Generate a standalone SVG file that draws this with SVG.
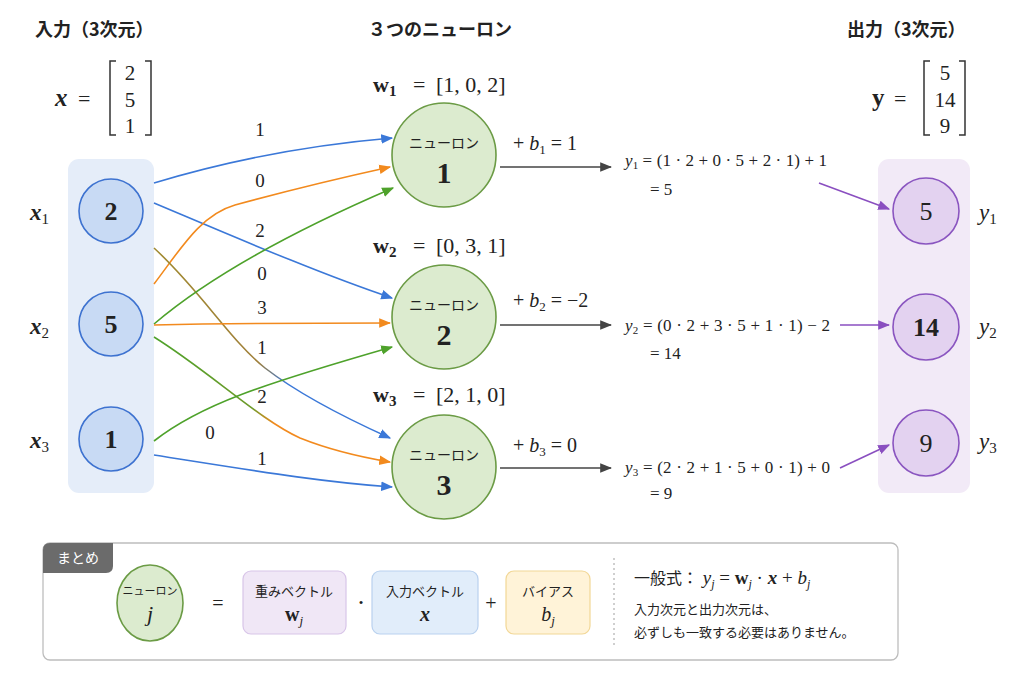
<svg xmlns="http://www.w3.org/2000/svg" width="1024" height="683" viewBox="0 0 1024 683">
<style>
.hd{font-family:"Noto Sans CJK JP","Noto Sans",sans-serif;font-weight:bold;font-size:18px;fill:#222}
.jp{font-family:"Noto Sans CJK JP","Noto Sans",sans-serif;fill:#222}
.m{font-family:"Liberation Serif","DejaVu Serif",serif;fill:#222}
.it{font-style:italic}
.b{font-weight:bold}
.wl{font-family:"Liberation Serif",serif;font-size:19px;fill:#222;text-anchor:middle}
.c{stroke-width:1.6;fill:none}
</style>
<defs>
<marker id="ab" viewBox="0 0 10 10" refX="9" refY="5" markerWidth="12" markerHeight="12" markerUnits="userSpaceOnUse" orient="auto"><path d="M0,1 L10,5 L0,9 z" fill="#3b78d8"/></marker>
<marker id="ao" viewBox="0 0 10 10" refX="9" refY="5" markerWidth="12" markerHeight="12" markerUnits="userSpaceOnUse" orient="auto"><path d="M0,1 L10,5 L0,9 z" fill="#f28a1e"/></marker>
<marker id="ag" viewBox="0 0 10 10" refX="9" refY="5" markerWidth="12" markerHeight="12" markerUnits="userSpaceOnUse" orient="auto"><path d="M0,1 L10,5 L0,9 z" fill="#4ea22b"/></marker>
<marker id="ad" viewBox="0 0 10 10" refX="9" refY="5" markerWidth="12" markerHeight="12" markerUnits="userSpaceOnUse" orient="auto"><path d="M0,1 L10,5 L0,9 z" fill="#444"/></marker>
<marker id="ap" viewBox="0 0 10 10" refX="9" refY="5" markerWidth="12" markerHeight="12" markerUnits="userSpaceOnUse" orient="auto"><path d="M0,1 L10,5 L0,9 z" fill="#8a4fc0"/></marker>
<linearGradient id="g4" gradientUnits="userSpaceOnUse" x1="154" y1="248" x2="392" y2="438"><stop offset="0" stop-color="#a08a30"/><stop offset="0.5" stop-color="#a0803a"/><stop offset="0.62" stop-color="#3b78d8"/></linearGradient>
<linearGradient id="g7" gradientUnits="userSpaceOnUse" x1="154" y1="337" x2="390" y2="462"><stop offset="0" stop-color="#4ea22b"/><stop offset="0.45" stop-color="#6e9a2a"/><stop offset="0.55" stop-color="#f28a1e"/></linearGradient>
</defs>
<rect width="1024" height="683" fill="#ffffff"/>

<!-- headers -->
<text class="hd" x="35" y="36">入力（3次元）</text>
<text class="hd" x="368" y="36" font-size="19">３つのニューロン</text>
<text class="hd" x="847" y="36">出力（3次元）</text>

<!-- input vector -->
<g id="x-vector">
<text class="m it b" x="55" y="106" font-size="25">x</text>
<text class="m" x="78" y="106" font-size="22">=</text>
<path d="M116,61 L110,61 L110,135 L116,135 M145,61 L151,61 L151,135 L145,135" stroke="#333" stroke-width="1.5" fill="none"/>
<text class="m" x="130" y="80" font-size="21" text-anchor="middle">2</text>
<text class="m" x="130" y="107" font-size="21" text-anchor="middle">5</text>
<text class="m" x="130" y="133" font-size="21" text-anchor="middle">1</text>
</g>

<!-- output vector -->
<g id="y-vector">
<text class="m b" x="872" y="106" font-size="25">y</text>
<text class="m" x="894" y="106" font-size="22">=</text>
<path d="M930,61 L924,61 L924,135 L930,135 M959,61 L965,61 L965,135 L959,135" stroke="#333" stroke-width="1.5" fill="none"/>
<text class="m" x="945" y="80" font-size="21" text-anchor="middle">5</text>
<text class="m" x="945" y="107" font-size="21" text-anchor="middle">14</text>
<text class="m" x="945" y="133" font-size="21" text-anchor="middle">9</text>
</g>

<!-- input panel -->
<g id="input-layer">
<rect x="68" y="159" width="86" height="334" rx="11" fill="#e5edf9"/>
<g id="x1"><circle cx="111" cy="211" r="32" fill="#c8daf4" stroke="#3d72d0" stroke-width="1.6"/><text class="m b" x="111" y="220" font-size="26" text-anchor="middle">2</text></g>
<g id="x2"><circle cx="111" cy="324" r="32" fill="#c8daf4" stroke="#3d72d0" stroke-width="1.6"/><text class="m b" x="111" y="333" font-size="26" text-anchor="middle">5</text></g>
<g id="x3"><circle cx="111" cy="439" r="32" fill="#c8daf4" stroke="#3d72d0" stroke-width="1.6"/><text class="m b" x="111" y="448" font-size="26" text-anchor="middle">1</text></g>
<text class="m it b" x="30" y="220" font-size="23">x<tspan font-style="normal" font-weight="normal" font-size="15" dy="4">1</tspan></text>
<text class="m it b" x="30" y="334" font-size="23">x<tspan font-style="normal" font-weight="normal" font-size="15" dy="4">2</tspan></text>
<text class="m it b" x="30" y="448" font-size="23">x<tspan font-style="normal" font-weight="normal" font-size="15" dy="4">3</tspan></text>
</g>

<!-- output panel -->
<g id="output-layer">
<rect x="878" y="159" width="92" height="334" rx="11" fill="#f2eaf7"/>
<g id="y1"><circle cx="926" cy="211" r="33" fill="#e3d2f0" stroke="#8a55c0" stroke-width="1.6"/><text class="m" x="926" y="220" font-size="26" text-anchor="middle">5</text></g>
<g id="y2"><circle cx="926" cy="327" r="33" fill="#e3d2f0" stroke="#8a55c0" stroke-width="1.6"/><text class="m b" x="926" y="336" font-size="26" text-anchor="middle">14</text></g>
<g id="y3"><circle cx="926" cy="443" r="33" fill="#e3d2f0" stroke="#8a55c0" stroke-width="1.6"/><text class="m" x="926" y="452" font-size="26" text-anchor="middle">9</text></g>
<text class="m it" x="979" y="220" font-size="23">y<tspan font-style="normal" font-size="15" dy="4">1</tspan></text>
<text class="m it" x="979" y="334" font-size="23">y<tspan font-style="normal" font-size="15" dy="4">2</tspan></text>
<text class="m it" x="979" y="449" font-size="23">y<tspan font-style="normal" font-size="15" dy="4">3</tspan></text>
</g>

<!-- neurons -->
<g id="neuron1">
<text class="m" x="373" y="92" font-size="22"><tspan class="b">w</tspan><tspan class="b" font-size="15" dy="4">1</tspan></text>
<text class="m" x="413" y="92" font-size="22">=</text>
<text class="m" x="436" y="92" font-size="22">[1, 0, 2]</text>
<circle cx="444" cy="155" r="52" fill="#dcebcf" stroke="#6b9b45" stroke-width="1.6"/>
<text class="jp" x="444" y="148" font-size="14" text-anchor="middle">ニューロン</text>
<text class="m b" x="444" y="183" font-size="30" text-anchor="middle">1</text>
</g>
<g id="neuron2">
<text class="m" x="373" y="253" font-size="22"><tspan class="b">w</tspan><tspan class="b" font-size="15" dy="4">2</tspan></text>
<text class="m" x="413" y="253" font-size="22">=</text>
<text class="m" x="436" y="253" font-size="22">[0, 3, 1]</text>
<circle cx="444" cy="317" r="52" fill="#dcebcf" stroke="#6b9b45" stroke-width="1.6"/>
<text class="jp" x="444" y="310" font-size="14" text-anchor="middle">ニューロン</text>
<text class="m b" x="444" y="345" font-size="30" text-anchor="middle">2</text>
</g>
<g id="neuron3">
<text class="m" x="373" y="402" font-size="22"><tspan class="b">w</tspan><tspan class="b" font-size="15" dy="4">3</tspan></text>
<text class="m" x="413" y="402" font-size="22">=</text>
<text class="m" x="436" y="402" font-size="22">[2, 1, 0]</text>
<circle cx="444" cy="467" r="52" fill="#dcebcf" stroke="#6b9b45" stroke-width="1.6"/>
<text class="jp" x="444" y="460" font-size="14" text-anchor="middle">ニューロン</text>
<text class="m b" x="444" y="495" font-size="30" text-anchor="middle">3</text>
</g>

<!-- connectors -->
<g id="connectors">
<path class="c" stroke="#3b78d8" marker-end="url(#ab)" d="M154,183 C230,160 310,145 392,138"/>
<path class="c" stroke="#3b78d8" marker-end="url(#ab)" d="M154,203 C230,235 320,274 392,298"/>
<path class="c" stroke="#f28a1e" marker-end="url(#ao)" d="M154,284 C180,250 200,215 235,205 C290,190 340,178 390,167"/>
<path class="c" stroke="url(#g4)" marker-end="url(#ab)" d="M154,248 C200,290 230,340 265,368 C300,395 350,420 390,438"/>
<path class="c" stroke="#4ea22b" marker-end="url(#ag)" d="M154,324 C215,272 300,228 393,188"/>
<path class="c" stroke="#f28a1e" marker-end="url(#ao)" d="M154,325 C250,323 320,323 390,323"/>
<path class="c" stroke="url(#g7)" marker-end="url(#ao)" d="M154,337 C210,372 260,420 300,438 C330,450 360,457 390,462"/>
<path class="c" stroke="#4ea22b" marker-end="url(#ag)" d="M154,441 C200,405 260,385 392,347"/>
<path class="c" stroke="#3b78d8" marker-end="url(#ab)" d="M154,455 C250,470 320,482 392,487"/>
<path class="c" stroke="#444" marker-end="url(#ad)" d="M500,167 L611,167"/>
<path class="c" stroke="#444" marker-end="url(#ad)" d="M500,325 L611,325"/>
<path class="c" stroke="#444" marker-end="url(#ad)" d="M500,468 L611,468"/>
<path class="c" stroke="#8a4fc0" marker-end="url(#ap)" d="M819,183 L889,209"/>
<path class="c" stroke="#8a4fc0" marker-end="url(#ap)" d="M840,325 L889,325"/>
<path class="c" stroke="#8a4fc0" marker-end="url(#ap)" d="M840,468 L889,445"/>
</g>

<!-- weight labels -->
<g id="weight-labels">
<text class="wl" x="260" y="136">1</text>
<text class="wl" x="260" y="187">0</text>
<text class="wl" x="260" y="237">2</text>
<text class="wl" x="262" y="280">0</text>
<text class="wl" x="262" y="314">3</text>
<text class="wl" x="262" y="354">1</text>
<text class="wl" x="262" y="403">2</text>
<text class="wl" x="210" y="439">0</text>
<text class="wl" x="262" y="465">1</text>
</g>

<!-- bias labels -->
<g id="bias-labels">
<text class="m" x="513" y="150" font-size="20">+ <tspan class="it">b</tspan><tspan font-size="13" dy="4">1</tspan><tspan dy="-4"> = 1</tspan></text>
<text class="m" x="513" y="307" font-size="20">+ <tspan class="it">b</tspan><tspan font-size="13" dy="4">2</tspan><tspan dy="-4"> = −2</tspan></text>
<text class="m" x="513" y="452" font-size="20">+ <tspan class="it">b</tspan><tspan font-size="13" dy="4">3</tspan><tspan dy="-4"> = 0</tspan></text>
</g>

<!-- equations -->
<g id="equations">
<text class="m" x="625" y="166" font-size="17" textLength="202" lengthAdjust="spacing"><tspan class="it">y</tspan><tspan font-size="11" dy="3">1</tspan><tspan dy="-3"> = (1 · 2 + 0 · 5 + 2 · 1) + 1</tspan></text>
<text class="m" x="650" y="195" font-size="17">= 5</text>
<text class="m" x="625" y="331" font-size="17" textLength="205" lengthAdjust="spacing"><tspan class="it">y</tspan><tspan font-size="11" dy="3">2</tspan><tspan dy="-3"> = (0 · 2 + 3 · 5 + 1 · 1) − 2</tspan></text>
<text class="m" x="650" y="359" font-size="17">= 14</text>
<text class="m" x="625" y="473" font-size="17" textLength="205" lengthAdjust="spacing"><tspan class="it">y</tspan><tspan font-size="11" dy="3">3</tspan><tspan dy="-3"> = (2 · 2 + 1 · 5 + 0 · 1) + 0</tspan></text>
<text class="m" x="650" y="499" font-size="17">= 9</text>
</g>

<!-- summary -->
<g id="summary">
<rect x="43" y="543" width="855" height="117" rx="7" fill="#fff" stroke="#bdbdbd" stroke-width="1.3"/>
<path d="M43,573 L43,550 Q43,543 50,543 L113,543 L113,566 Q113,573 106,573 Z" fill="#6b6b6b"/>
<text class="jp" x="78" y="563" font-size="14" style="fill:#fff" text-anchor="middle">まとめ</text>
<g id="sum-neuron">
<ellipse cx="150" cy="603" rx="33" ry="38" fill="#dcebcf" stroke="#6b9b45" stroke-width="1.6"/>
<text class="jp" x="150" y="595" font-size="11" text-anchor="middle">ニューロン</text>
<text class="m it" x="150" y="621" font-size="22" text-anchor="middle">j</text>
</g>
<text class="m" x="218" y="610" font-size="20" text-anchor="middle">=</text>
<g id="sum-weight">
<rect x="243" y="571" width="103" height="63" rx="8" fill="#f0e7f6" stroke="#d8c5e8" stroke-width="1.2"/>
<text class="jp" x="294" y="596" font-size="13" text-anchor="middle">重みベクトル</text>
<text class="m" x="294" y="621" font-size="20" text-anchor="middle"><tspan class="b">w</tspan><tspan class="it" font-size="13" dy="4">j</tspan></text>
</g>
<text class="m" x="361" y="607" font-size="13" text-anchor="middle">•</text>
<g id="sum-input">
<rect x="372" y="571" width="106" height="63" rx="8" fill="#e1edfa" stroke="#b9d1ef" stroke-width="1.2"/>
<text class="jp" x="425" y="596" font-size="13" text-anchor="middle">入力ベクトル</text>
<text class="m it b" x="425" y="621" font-size="20" text-anchor="middle">x</text>
</g>
<text class="m" x="491" y="610" font-size="20" text-anchor="middle">+</text>
<g id="sum-bias">
<rect x="506" y="571" width="84" height="63" rx="8" fill="#fff3d8" stroke="#f2d796" stroke-width="1.2"/>
<text class="jp" x="548" y="596" font-size="13" text-anchor="middle">バイアス</text>
<text class="m it" x="548" y="621" font-size="20" text-anchor="middle">b<tspan font-size="13" dy="4">j</tspan></text>
</g>
<line x1="614" y1="558" x2="614" y2="645" stroke="#b0b0b0" stroke-width="1.2" stroke-dasharray="2,3"/>
<text x="634" y="584"><tspan class="jp" font-size="16">一般式：</tspan><tspan class="m it" font-size="19"> y</tspan><tspan class="m it" font-size="12" dy="4">j</tspan><tspan class="m" font-size="19" dy="-4"> = </tspan><tspan class="m b" font-size="19">w</tspan><tspan class="m it" font-size="12" dy="4">j</tspan><tspan class="m" font-size="19" dy="-4"> · </tspan><tspan class="m it b" font-size="19">x</tspan><tspan class="m" font-size="19"> + </tspan><tspan class="m it" font-size="19">b</tspan><tspan class="m it" font-size="12" dy="4">j</tspan></text>
<text class="jp" x="634" y="614" font-size="13">入力次元と出力次元は、</text>
<text class="jp" x="634" y="637" font-size="13">必ずしも一致する必要はありません。</text>
</g>
</svg>
